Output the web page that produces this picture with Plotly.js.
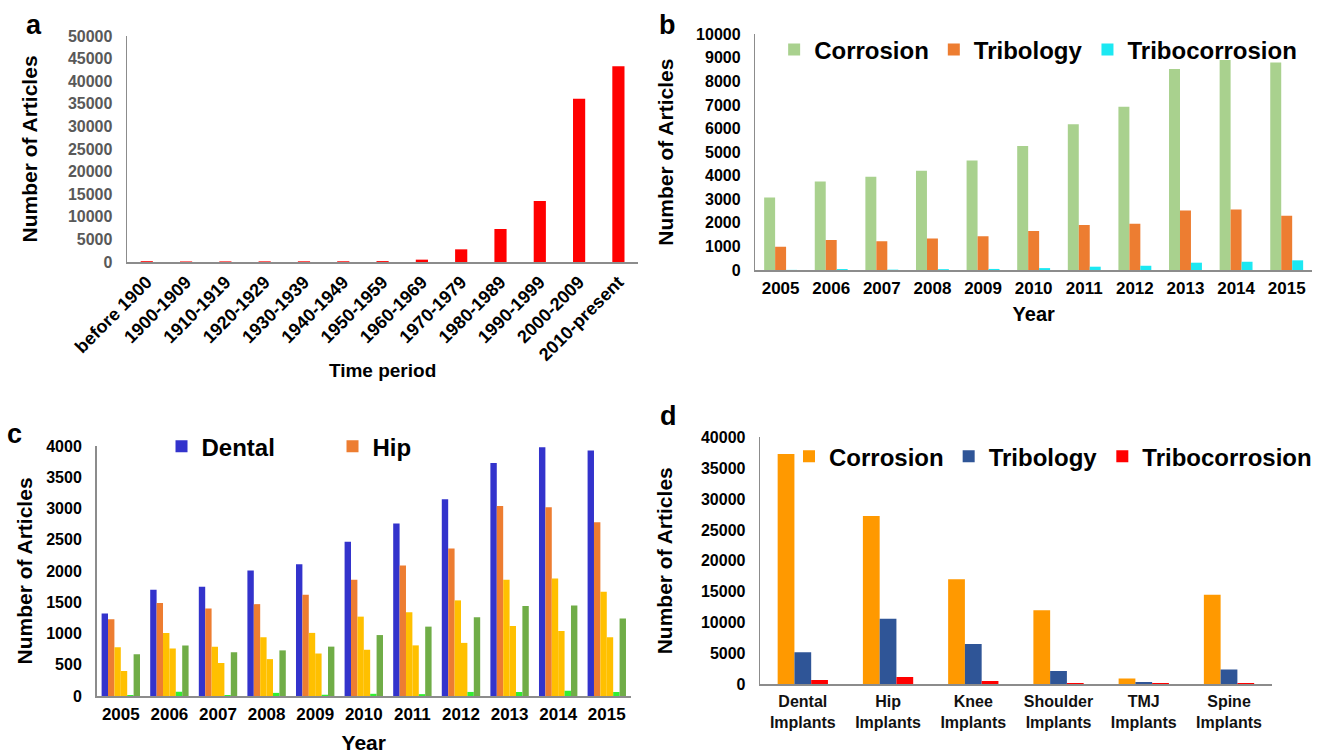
<!DOCTYPE html>
<html>
<head>
<meta charset="utf-8">
<script src="https://cdn.plot.ly/plotly-3.0.1.min.js"></script>
<style>html,body{margin:0;padding:0;background:#fff;}#chart{width:1317px;height:754px;}</style>
</head>
<body>
<div id="chart"></div>
<script>
// ---------- data ----------
const periods = ['before 1900','1900-1909','1910-1919','1920-1929','1930-1939','1940-1949','1950-1959','1960-1969','1970-1979','1980-1989','1990-1999','2000-2009','2010-present'];
const articlesByPeriod = [180,120,130,140,150,160,200,520,2800,7300,13500,36100,43300];

const years = ['2005','2006','2007','2008','2009','2010','2011','2012','2013','2014','2015'];
const bCorrosion = [3080,3750,3960,4210,4650,5260,6180,6930,8530,8910,8800];
const bTribology = [990,1270,1220,1340,1430,1650,1910,1960,2520,2570,2300];
const bTribocorrosion = [5,40,15,35,45,80,140,180,310,350,410];

const cDental = [1320,1700,1750,2010,2110,2470,2760,3150,3730,3980,3930];
const cHip = [1230,1490,1400,1470,1620,1860,2090,2360,3040,3020,2780];
const cKnee = [780,1010,790,940,1010,1270,1340,1530,1860,1880,1670];
const cShoulder = [400,760,530,590,680,740,810,850,1120,1040,940];
const cTMJ = [15,70,15,50,20,35,30,65,65,85,65];
const cSpine = [670,810,700,730,790,975,1110,1260,1440,1450,1240];

const implants = ['Dental<br>Implants','Hip<br>Implants','Knee<br>Implants','Shoulder<br>Implants','TMJ<br>Implants','Spine<br>Implants'];
const dCorrosion = [37300,27260,17000,11980,920,14520];
const dTribology = [5180,10630,6530,2160,380,2380];
const dTribocorrosion = [700,1190,540,220,200,200];

// ---------- helpers ----------
const W = 1317, H = 754;
const FAM = 'Liberation Sans, Arial, sans-serif';
const dx = (l, r) => [l / W, r / W];
const dy = (top, bottom) => [1 - bottom / H, 1 - top / H];
function groupBars(n, total) {
  const w = total / n;
  return Array.from({length: n}, (_, k) => ({width: w, offset: -total / 2 + k * w}));
}
const bold = (size, color) => ({family: FAM, size: size, color: color || '#000', weight: 'bold'});

const traces = [];
// panel a
traces.push({type: 'bar', x: periods, y: articlesByPeriod, xaxis: 'x', yaxis: 'y',
  marker: {color: '#FF0000'}, width: 0.31, offset: -0.155, showlegend: false, name: 'Articles'});

// panel b
const gb = groupBars(3, 0.65);
[[bCorrosion, 'Corrosion', '#A9D18E'], [bTribology, 'Tribology', '#ED7D31'], [bTribocorrosion, 'Tribocorrosion', '#1CE8F2']]
  .forEach((s, i) => traces.push({type: 'bar', x: years, y: s[0], name: s[1], xaxis: 'x2', yaxis: 'y2',
    marker: {color: s[2]}, width: gb[i].width, offset: gb[i].offset, legend: 'legend'}));

// panel c
const gc = groupBars(6, 0.79);
[[cDental, 'Dental', '#3333CC', true], [cHip, 'Hip', '#ED7D31', true], [cKnee, 'Knee', '#FFC000', false],
 [cShoulder, 'Shoulder', '#FFC000', false], [cTMJ, 'TMJ', '#33EE33', false], [cSpine, 'Spine', '#70AD47', false]]
  .forEach((s, i) => traces.push({type: 'bar', x: years, y: s[0], name: s[1], xaxis: 'x3', yaxis: 'y3',
    marker: {color: s[2]}, width: gc[i].width, offset: gc[i].offset, legend: 'legend2', showlegend: s[3]}));

// panel d
const gd = groupBars(3, 0.59);
[[dCorrosion, 'Corrosion', '#FF9900'], [dTribology, 'Tribology', '#2F5597'], [dTribocorrosion, 'Tribocorrosion', '#FF0000']]
  .forEach((s, i) => traces.push({type: 'bar', x: implants, y: s[0], name: s[1], xaxis: 'x4', yaxis: 'y4',
    marker: {color: s[2]}, width: gd[i].width, offset: gd[i].offset, legend: 'legend3'}));

const LINE = '#8C8C8C';
function xAxis(domain, anchor, n, extra) {
  return Object.assign({domain: domain, anchor: anchor, type: 'category', range: [-0.5, n - 0.5],
    showline: true, linecolor: LINE, linewidth: 1.5, showgrid: false, zeroline: false,
    ticks: 'outside', tickcolor: 'rgba(0,0,0,0)', ticklen: 2, fixedrange: true}, extra);
}
function yAxis(domain, anchor, max, dtick, extra) {
  return Object.assign({domain: domain, anchor: anchor, range: [0, max], dtick: dtick, tick0: 0,
    tickformat: 'd', showline: true, linecolor: LINE, linewidth: 1.5, showgrid: false, zeroline: false,
    ticks: 'outside', tickcolor: 'rgba(0,0,0,0)', ticklen: 10, fixedrange: true}, extra);
}

const layout = {
  width: W, height: H, margin: {l: 0, r: 0, t: 0, b: 0},
  paper_bgcolor: '#fff', plot_bgcolor: '#fff',
  font: {family: FAM, color: '#000'},
  barmode: 'group',
  xaxis: xAxis(dx(127.5, 640), 'y', periods.length, {tickangle: -45, tickfont: bold(18, '#000'), ticklen: 1,
    title: {text: 'Time period', font: bold(19), standoff: 0}}),
  yaxis: yAxis(dy(36, 262), 'x', 50000, 5000, {tickfont: bold(16, '#595959'),
    title: {text: 'Number of Articles', font: bold(21), standoff: 24}}),
  xaxis2: xAxis(dx(757.6, 1316), 'y2', years.length, {tickfont: bold(17),
    title: {text: 'Year', font: bold(20), standoff: 10}}),
  yaxis2: yAxis(dy(34.3, 270), 'x2', 10000, 1000, {tickfont: bold(16),
    title: {text: 'Number of Articles', font: bold(21), standoff: 16}}),
  xaxis3: xAxis(dx(96.8, 633), 'y3', years.length, {tickfont: bold(17),
    title: {text: 'Year', font: bold(21), standoff: 12}}),
  yaxis3: yAxis(dy(446, 696), 'x3', 4000, 500, {tickfont: bold(16),
    title: {text: 'Number of Articles', font: bold(21), standoff: 8}}),
  xaxis4: xAxis(dx(762.5, 1275.5), 'y4', implants.length, {tickfont: bold(16, '#111'), ticklen: 2}),
  yaxis4: yAxis(dy(437.3, 684.3), 'x4', 40000, 5000, {tickfont: bold(16),
    title: {text: 'Number of Articles', font: bold(21), standoff: 22}}),
  legend: {x: 776.5 / W, y: 1 - 50 / H, xanchor: 'left', yanchor: 'middle', orientation: 'h',
    font: bold(24), bgcolor: 'rgba(0,0,0,0)', traceorder: 'normal'},
  legend2: {x: 162 / W, y: 1 - 446.7 / H, xanchor: 'left', yanchor: 'middle', orientation: 'h',
    font: bold(24), bgcolor: 'rgba(0,0,0,0)', entrywidth: 126, traceorder: 'normal'},
  legend3: {x: 791.4 / W, y: 1 - 456.7 / H, xanchor: 'left', yanchor: 'middle', orientation: 'h',
    font: bold(24), bgcolor: 'rgba(0,0,0,0)', traceorder: 'normal'},
  annotations: [
    {text: 'a', x: 34.5 / W, y: 1 - 25 / H},
    {text: 'b', x: 669.5 / W, y: 1 - 25 / H},
    {text: 'c', x: 15 / W, y: 1 - 434 / H},
    {text: 'd', x: 671 / W, y: 1 - 416 / H}
  ].map(a => Object.assign(a, {xref: 'paper', yref: 'paper', showarrow: false, xanchor: 'center',
    yanchor: 'middle', font: bold(27)}))
};

Plotly.newPlot('chart', traces, layout, {displayModeBar: false, staticPlot: true});
</script>
</body>
</html>
